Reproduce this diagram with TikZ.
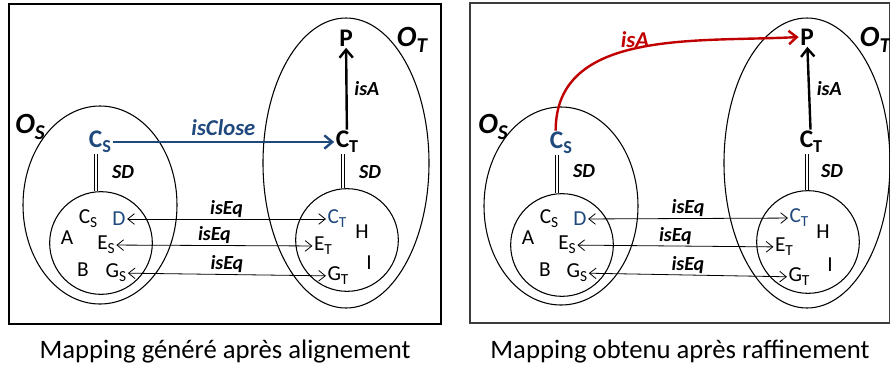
\documentclass[tikz,border=0pt]{standalone}
\usepackage{fontspec}
\setmainfont{Carlito}
\usetikzlibrary{shapes.geometric, arrows.meta, positioning}
\definecolor{colBlue}{RGB}{31,73,125}
\definecolor{colRed}{RGB}{192,0,0}
\definecolor{colFrame}{RGB}{60,60,60}
\tikzset{
    onto/.style={ellipse, draw, line width=0.8pt, inner sep=0pt},
    subset/.style={circle, draw, line width=0.8pt, inner sep=0pt, minimum size=77pt},
    concept/.style={inner sep=1pt, font=\fontsize{19}{21}\selectfont\bfseries},
    onlabel/.style={inner sep=1pt, font=\fontsize{22}{24}\selectfont\bfseries\itshape},
    elem/.style={inner sep=1pt, font=\fontsize{16}{18}\selectfont},
    rel/.style={inner sep=1pt, font=\fontsize{15}{17}\selectfont\bfseries\itshape},
    bigrel/.style={inner sep=1pt, font=\fontsize{17}{19}\selectfont\bfseries\itshape},
    sdline/.style={double, double distance=2.2pt, line width=0.6pt},
    eqarrow/.style={{Straight Barb[length=5pt,width=8pt]}-{Straight Barb[length=5pt,width=8pt]}, line width=0.6pt},
    arrow/.style={-{Straight Barb[length=6pt,width=10pt]}, line width=1.8pt},
    caption/.style={font=\fontsize{20}{24}\selectfont}
}
\newcommand{\sub}[1]{\raisebox{-0.4ex}{\scalebox{0.72}{#1}}}

\begin{document}
\begin{tikzpicture}[x=0.75pt, y=-0.75pt]
    \useasboundingbox (0,0) rectangle (890,369);

    % generated mapping
    \draw[line width=0.9pt] (9,4) rectangle (441,324);
    \node[onto, minimum width=115.5pt, minimum height=148.5pt] (lOS) at (100,205) {};
    \node[onto, minimum width=124.5pt, minimum height=217.5pt] (lOT) at (346,163) {};
    \node[subset] (lS) at (101,243) {};
    \node[subset] (lT) at (347,240) {};
    \node[onlabel] at (30,127) {O\sub{S}};
    \node[onlabel] at (412,40) {O\sub{T}};
    \node[concept, text=colBlue] (lCS) at (100,142) {C\sub{S}};
    \node[concept] (lCT) at (347,142) {C\sub{T}};
    \node[concept] (lP) at (346,38) {P};
    \node[rel] at (123,172) {SD};
    \node[rel] at (370,172) {SD};
    \node[elem] (lCs) at (88,219) {C\sub{S}};
    \node[elem, text=colBlue] (lD) at (119,219) {D};
    \node[elem] (lA) at (67,238) {A};
    \node[elem] (lEs) at (106,245) {E\sub{S}};
    \node[elem] (lB) at (83,270) {B};
    \node[elem] (lGs) at (116,273) {G\sub{S}};
    \node[elem, text=colBlue] (lCt) at (337,219) {C\sub{T}};
    \node[elem] (lH) at (362,232) {H};
    \node[elem] (lEt) at (323,246) {E\sub{T}};
    \node[elem] (lI) at (369,263) {I};
    \node[elem] (lGt) at (338,276) {G\sub{T}};

    \draw[sdline] ([xshift=-3]lCS.south) -- ([xshift=-3]lCS.south |- lS.north);
    \draw[sdline] ([xshift=-3]lCT.south) -- ([xshift=-3]lCT.south |- lT.north);
    \draw[arrow] (lCT) -- (lP) node[rel, midway, right=4pt] {isA};
    \draw[arrow, draw=colBlue] (lCS) -- (lCT)
        node[bigrel, text=colBlue, midway, above=3pt] {isClose};
    \draw[eqarrow] (lD) -- (lCt) node[rel, midway, above=0pt] {isEq};
    \draw[eqarrow] (lEs) -- (lEt) node[rel, midway, above=0pt] {isEq};
    \draw[eqarrow] (lGs) -- (lGt) node[rel, midway, above=0pt] {isEq};

    % refined mapping
    \draw[line width=1.2pt, draw=colFrame] (470,3) rectangle (889.4,323);
    \node[onto, minimum width=115.5pt, minimum height=148.5pt] (rOS) at (561,206) {};
    \node[onto, minimum width=124.5pt, minimum height=217.5pt] (rOT) at (807,163) {};
    \node[subset] (rS) at (562,245) {};
    \node[subset] (rT) at (808,242) {};
    \node[onlabel] at (493,127) {O\sub{S}};
    \node[onlabel] at (875,40) {O\sub{T}};
    \node[concept, text=colBlue] (rCS) at (561,143) {C\sub{S}};
    \node[concept] (rCT) at (811,142) {C\sub{T}};
    \node[concept] (rP) at (807,37) {P};
    \node[rel] at (584,171) {SD};
    \node[rel] at (832,171) {SD};
    \node[elem] (rCs) at (549,219) {C\sub{S}};
    \node[elem, text=colBlue] (rD) at (580,219) {D};
    \node[elem] (rA) at (528,238) {A};
    \node[elem] (rEs) at (567,245) {E\sub{S}};
    \node[elem] (rB) at (545,270) {B};
    \node[elem] (rGs) at (577,273) {G\sub{S}};
    \node[elem, text=colBlue] (rCt) at (799,218) {C\sub{T}};
    \node[elem] (rH) at (823,232) {H};
    \node[elem] (rEt) at (784,247) {E\sub{T}};
    \node[elem] (rI) at (830,265) {I};
    \node[elem] (rGt) at (799,277) {G\sub{T}};

    \draw[sdline] ([xshift=-3]rCS.south) -- ([xshift=-3]rCS.south |- rS.north);
    \draw[sdline] ([xshift=-3]rCT.south) -- ([xshift=-3]rCT.south |- rT.north);
    \draw[arrow] (rCT) -- (rP) node[rel, midway, right=4pt] {isA};
    \draw[arrow, draw=colRed] ([xshift=-4]rCS.north) to[out=90, in=183] (rP.west);
    \node[bigrel, text=colRed] at (635,40) {isA};
    \draw[eqarrow] (rD) -- (rCt) node[rel, midway, above=0pt] {isEq};
    \draw[eqarrow] (rEs) -- (rEt) node[rel, midway, above=0pt] {isEq};
    \draw[eqarrow] (rGs) -- (rGt) node[rel, midway, above=0pt] {isEq};

    \node[caption] (capL) at (225,352) {Mapping généré après alignement};
    \node[caption] (capR) at (680,352) {Mapping obtenu après raffinement};
\end{tikzpicture}
\end{document}
